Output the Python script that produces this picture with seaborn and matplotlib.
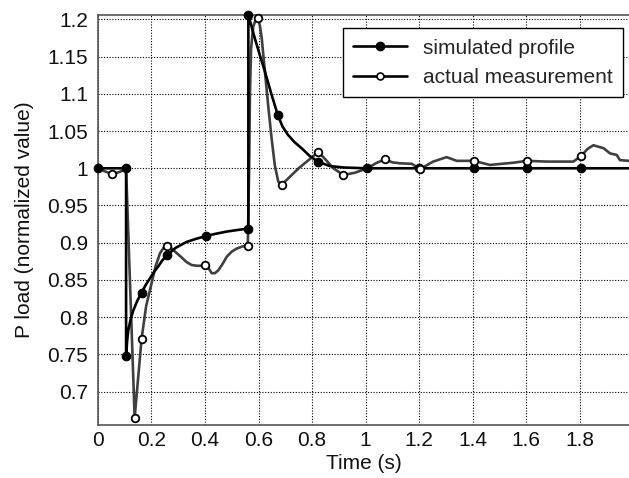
import numpy as np
import pandas as pd
import matplotlib
matplotlib.use('Agg')
import matplotlib.pyplot as plt
from matplotlib.lines import Line2D
from matplotlib.ticker import FormatStrFormatter
import seaborn as sns

# simulated profile (line points)
sim_t = [0, 0.105, 0.105, 0.109, 0.113, 0.122, 0.132, 0.147, 0.163, 0.178, 0.194,
         0.21, 0.225, 0.24, 0.257, 0.29, 0.331, 0.365, 0.404, 0.44, 0.482, 0.52,
         0.562, 0.562, 0.586, 0.605, 0.624, 0.648, 0.672, 0.69, 0.71, 0.735,
         0.761, 0.79, 0.821, 0.867, 0.92, 1.007, 1.2, 1.405, 1.603, 1.805, 1.985]
sim_p = [1.0, 1.0, 0.748, 0.768, 0.782, 0.797, 0.809, 0.822, 0.833, 0.843, 0.852,
         0.861, 0.868, 0.876, 0.883, 0.893, 0.901, 0.905, 0.909, 0.912, 0.915, 0.917,
         0.919, 1.206, 1.175, 1.152, 1.13, 1.1, 1.0716, 1.056, 1.045, 1.035,
         1.027, 1.017, 1.009, 1.003, 1.001, 1.0, 1.0, 1.0, 1.0, 1.0, 1.0]
sim_mark_t = [0, 0.105, 0.105, 0.163, 0.257, 0.404, 0.562, 0.562, 0.672, 0.821,
              1.007, 1.2, 1.405, 1.603, 1.805]
sim_mark_p = [1.0, 1.0, 0.748, 0.833, 0.883, 0.909, 0.919, 1.206, 1.0716, 1.009,
              1.0, 1.0, 1.0, 1.0, 1.0]

# actual measurement
act_t = [0, 0.025, 0.053, 0.08, 0.105, 0.137, 0.163, 0.18, 0.2, 0.215, 0.232, 0.245,
         0.257, 0.27, 0.288, 0.31, 0.331, 0.35, 0.369, 0.385, 0.40, 0.413, 0.425,
         0.437, 0.45, 0.465, 0.481, 0.5, 0.518, 0.54, 0.560, 0.565, 0.568, 0.572,
         0.58, 0.588, 0.597, 0.605, 0.612, 0.624, 0.636, 0.649, 0.661, 0.674, 0.687,
         0.75, 0.824, 0.85, 0.88, 0.917, 0.96, 1.007, 1.04, 1.073, 1.1, 1.129, 1.173,
         1.204, 1.253, 1.303, 1.341, 1.405, 1.465, 1.553, 1.603, 1.676, 1.777, 1.806,
         1.83, 1.852, 1.87, 1.89, 1.914, 1.939, 1.951, 1.985]
act_p = [1.0, 0.996, 0.992, 0.995, 0.999, 0.665, 0.771, 0.815, 0.845, 0.868, 0.886,
         0.893, 0.896, 0.894, 0.888, 0.881, 0.874, 0.870, 0.869, 0.869, 0.870, 0.866,
         0.859, 0.859, 0.863, 0.871, 0.881, 0.888, 0.892, 0.895, 0.896, 1.0, 1.1, 1.16,
         1.19, 1.198, 1.2014, 1.192, 1.175, 1.13, 1.085, 1.040, 1.004, 0.982, 0.978,
         1.0, 1.022, 1.012, 1.0, 0.991, 0.994, 1.0, 1.007, 1.012, 1.008, 1.0067, 1.006,
         0.999, 1.009, 1.015, 1.010, 1.010, 1.0045, 1.0075, 1.010, 1.009, 1.009, 1.0165,
         1.026, 1.031, 1.029, 1.027, 1.020, 1.018, 1.011, 1.010]
act_mark_t = [0.053, 0.137, 0.163, 0.257, 0.40, 0.560, 0.597, 0.687, 0.824, 0.917,
              1.073, 1.204, 1.405, 1.603, 1.806]
act_mark_p = [0.992, 0.665, 0.771, 0.896, 0.870, 0.896, 1.2014, 0.978, 1.022, 0.991,
              1.012, 0.999, 1.010, 1.010, 1.0165]

x_ticks = [0, 0.2, 0.4, 0.6, 0.8, 1.0, 1.2, 1.4, 1.6, 1.8]
y_ticks = [0.7, 0.75, 0.8, 0.85, 0.9, 0.95, 1.0, 1.05, 1.1, 1.15, 1.2]

sns.set_style('white')
plt.rcParams['font.family'] = ['Liberation Sans', 'DejaVu Sans']

sim = pd.DataFrame({'t': sim_t, 'p': sim_p})
act = pd.DataFrame({'t': act_t, 'p': act_p})

fig = plt.figure(figsize=(6.29, 4.78), dpi=100)
ax = fig.add_axes([0.1558, 0.1109, 0.8442, 0.8577])

gray = '#3f3f3f'
fs = 15
sns.lineplot(data=act, x='t', y='p', estimator=None, sort=False, color=gray,
             lw=1.9, ax=ax, zorder=3)
sns.lineplot(data=sim, x='t', y='p', estimator=None, sort=False, color='black',
             lw=1.9, ax=ax, zorder=4)
sns.scatterplot(x=sim_mark_t, y=sim_mark_p, color='black', s=38, edgecolor='black',
                linewidth=0.8, ax=ax, zorder=5, clip_on=False)
sns.scatterplot(x=act_mark_t, y=act_mark_p, color='white', s=30, edgecolor='black',
                linewidth=1.3, ax=ax, zorder=6, clip_on=False)

ax.set_xlim(0, 1.985)
ax.set_ylim(0.655, 1.206)
ax.set_xticks(x_ticks)
ax.set_yticks(y_ticks)
ax.xaxis.set_major_formatter(FormatStrFormatter('%g'))
ax.yaxis.set_major_formatter(FormatStrFormatter('%g'))
ax.tick_params(length=0, labelsize=fs, colors='#111111')
ax.tick_params(axis='y', pad=7)
ax.tick_params(axis='x', pad=4)
ax.grid(True, color='black', linestyle=(0, (1, 1.5)), lw=0.8)
for s in ['left', 'bottom', 'top']:
    ax.spines[s].set_color('#555555')
    ax.spines[s].set_linewidth(1.2)
ax.spines['right'].set_visible(False)

ax.set_xlabel('Time (s)', fontsize=fs, color='#111111', labelpad=3)
ax.set_ylabel('P load (normalized value)', fontsize=fs, color='#111111', labelpad=10)

handles = [
    Line2D([], [], color='black', lw=1.9, marker='o', markersize=6,
           markerfacecolor='black', markeredgecolor='black'),
    Line2D([], [], color='black', lw=1.9, marker='o', markersize=5,
           markerfacecolor='white', markeredgecolor='black', markeredgewidth=1.2),
]
leg = ax.legend(handles, ['simulated profile', 'actual measurement'],
                loc='upper right', bbox_to_anchor=(0.989, 0.968), borderaxespad=0,
                fontsize=fs, frameon=True, fancybox=False, handlelength=2.6,
                handletextpad=0.75, borderpad=0.5, labelspacing=0.5,
                edgecolor='black', framealpha=1)
leg.get_frame().set_linewidth(1.0)
leg.set_zorder(10)

plt.savefig('out.png', dpi=100)
